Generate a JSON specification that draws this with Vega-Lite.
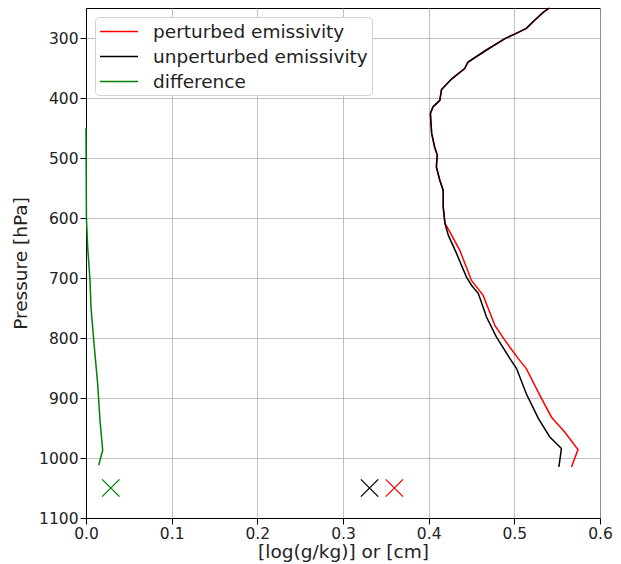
{
  "$schema": "https://vega.github.io/schema/vega-lite/v6.json",
  "width": 514,
  "height": 510,
  "autosize": {"type": "none"},
  "padding": {"left": 86, "top": 8, "right": 21, "bottom": 46},
  "background": "white",
  "config": {
    "font": "DejaVu Sans",
    "view": {"stroke": "black", "strokeWidth": 1},
    "axis": {
      "grid": true, "gridColor": "#b0b0b0", "gridWidth": 1, "gridOpacity": 0.8,
      "domainColor": "black", "tickColor": "black", "tickSize": 6,
      "labelFontSize": 15.5, "labelColor": "#222", "labelFlush": false, "labelOverlap": false,
      "titleFontSize": 18.5, "titleFontWeight": "normal", "titleColor": "#222"
    }
  },
  "datasets": {
    "profiles": [
      {"series": "perturbed emissivity", "p": 250, "x": 0.541},
      {"series": "perturbed emissivity", "p": 257, "x": 0.534},
      {"series": "perturbed emissivity", "p": 270, "x": 0.524},
      {"series": "perturbed emissivity", "p": 284, "x": 0.514},
      {"series": "perturbed emissivity", "p": 293, "x": 0.501},
      {"series": "perturbed emissivity", "p": 301, "x": 0.489},
      {"series": "perturbed emissivity", "p": 320, "x": 0.4675},
      {"series": "perturbed emissivity", "p": 340, "x": 0.446},
      {"series": "perturbed emissivity", "p": 351, "x": 0.442},
      {"series": "perturbed emissivity", "p": 368, "x": 0.427},
      {"series": "perturbed emissivity", "p": 386, "x": 0.415},
      {"series": "perturbed emissivity", "p": 404, "x": 0.413},
      {"series": "perturbed emissivity", "p": 415, "x": 0.405},
      {"series": "perturbed emissivity", "p": 426, "x": 0.402},
      {"series": "perturbed emissivity", "p": 459, "x": 0.4035},
      {"series": "perturbed emissivity", "p": 482, "x": 0.407},
      {"series": "perturbed emissivity", "p": 495, "x": 0.410},
      {"series": "perturbed emissivity", "p": 515, "x": 0.409},
      {"series": "perturbed emissivity", "p": 537, "x": 0.413},
      {"series": "perturbed emissivity", "p": 554, "x": 0.417},
      {"series": "perturbed emissivity", "p": 582, "x": 0.417},
      {"series": "perturbed emissivity", "p": 609, "x": 0.419},
      {"series": "perturbed emissivity", "p": 623, "x": 0.4247},
      {"series": "perturbed emissivity", "p": 654, "x": 0.4364},
      {"series": "perturbed emissivity", "p": 704, "x": 0.450},
      {"series": "perturbed emissivity", "p": 729, "x": 0.4636},
      {"series": "perturbed emissivity", "p": 779, "x": 0.4773},
      {"series": "perturbed emissivity", "p": 804, "x": 0.489},
      {"series": "perturbed emissivity", "p": 834, "x": 0.5044},
      {"series": "perturbed emissivity", "p": 851, "x": 0.514},
      {"series": "perturbed emissivity", "p": 896, "x": 0.530},
      {"series": "perturbed emissivity", "p": 932, "x": 0.5434},
      {"series": "perturbed emissivity", "p": 957, "x": 0.559},
      {"series": "perturbed emissivity", "p": 986, "x": 0.5743},
      {"series": "perturbed emissivity", "p": 1015, "x": 0.5667},
      {"series": "unperturbed emissivity", "p": 250, "x": 0.541},
      {"series": "unperturbed emissivity", "p": 257, "x": 0.534},
      {"series": "unperturbed emissivity", "p": 270, "x": 0.524},
      {"series": "unperturbed emissivity", "p": 284, "x": 0.514},
      {"series": "unperturbed emissivity", "p": 293, "x": 0.501},
      {"series": "unperturbed emissivity", "p": 301, "x": 0.489},
      {"series": "unperturbed emissivity", "p": 320, "x": 0.4675},
      {"series": "unperturbed emissivity", "p": 340, "x": 0.446},
      {"series": "unperturbed emissivity", "p": 351, "x": 0.442},
      {"series": "unperturbed emissivity", "p": 368, "x": 0.427},
      {"series": "unperturbed emissivity", "p": 386, "x": 0.415},
      {"series": "unperturbed emissivity", "p": 404, "x": 0.413},
      {"series": "unperturbed emissivity", "p": 415, "x": 0.405},
      {"series": "unperturbed emissivity", "p": 426, "x": 0.402},
      {"series": "unperturbed emissivity", "p": 459, "x": 0.4035},
      {"series": "unperturbed emissivity", "p": 482, "x": 0.407},
      {"series": "unperturbed emissivity", "p": 495, "x": 0.410},
      {"series": "unperturbed emissivity", "p": 515, "x": 0.409},
      {"series": "unperturbed emissivity", "p": 537, "x": 0.413},
      {"series": "unperturbed emissivity", "p": 554, "x": 0.417},
      {"series": "unperturbed emissivity", "p": 582, "x": 0.417},
      {"series": "unperturbed emissivity", "p": 609, "x": 0.419},
      {"series": "unperturbed emissivity", "p": 629, "x": 0.423},
      {"series": "unperturbed emissivity", "p": 659, "x": 0.4325},
      {"series": "unperturbed emissivity", "p": 698, "x": 0.444},
      {"series": "unperturbed emissivity", "p": 712, "x": 0.450},
      {"series": "unperturbed emissivity", "p": 726, "x": 0.458},
      {"series": "unperturbed emissivity", "p": 765, "x": 0.4675},
      {"series": "unperturbed emissivity", "p": 798, "x": 0.479},
      {"series": "unperturbed emissivity", "p": 834, "x": 0.4947},
      {"series": "unperturbed emissivity", "p": 851, "x": 0.5026},
      {"series": "unperturbed emissivity", "p": 893, "x": 0.514},
      {"series": "unperturbed emissivity", "p": 934, "x": 0.528},
      {"series": "unperturbed emissivity", "p": 965, "x": 0.5414},
      {"series": "unperturbed emissivity", "p": 984, "x": 0.555},
      {"series": "unperturbed emissivity", "p": 1015, "x": 0.552},
      {"series": "difference", "p": 450, "x": 0.0},
      {"series": "difference", "p": 600, "x": 0.0005},
      {"series": "difference", "p": 650, "x": 0.002},
      {"series": "difference", "p": 704, "x": 0.0047},
      {"series": "difference", "p": 749, "x": 0.0058},
      {"series": "difference", "p": 815, "x": 0.0097},
      {"series": "difference", "p": 876, "x": 0.0136},
      {"series": "difference", "p": 937, "x": 0.0163},
      {"series": "difference", "p": 987, "x": 0.0195},
      {"series": "difference", "p": 1012, "x": 0.0148}
    ],
    "markers": [
      {"series": "perturbed emissivity", "p": 1050, "x": 0.36},
      {"series": "unperturbed emissivity", "p": 1050, "x": 0.331},
      {"series": "difference", "p": 1050, "x": 0.029}
    ]
  },
  "encoding": {
    "x": {"field": "x", "type": "quantitative", "scale": {"domain": [0, 0.6], "nice": false, "zero": false},
      "axis": {"values": [0, 0.1, 0.2, 0.3, 0.4, 0.5, 0.6], "format": ".1f", "title": "[log(g/kg)] or [cm]", "titlePadding": 1, "labelPadding": 2}},
    "y": {"field": "p", "type": "quantitative", "scale": {"domain": [250, 1100], "reverse": true, "nice": false, "zero": false},
      "axis": {"values": [300, 400, 500, 600, 700, 800, 900, 1000, 1100], "format": "d", "title": "Pressure [hPa]", "titlePadding": 8, "labelPadding": 2}}
  },
  "layer": [
    {
      "data": {"name": "profiles"},
      "transform": [{"filter": "datum.series === 'perturbed emissivity'"}],
      "mark": {"type": "line", "strokeWidth": 1.5},
      "encoding": {
        "order": {"field": "p", "type": "quantitative"},
        "color": {"field": "series", "type": "nominal",
          "scale": {"domain": ["perturbed emissivity", "unperturbed emissivity", "difference"], "range": ["#ff0000", "#000000", "#008000"]},
          "legend": {"title": null, "orient": "top-left", "offset": 9, "symbolType": "M-1,0H3", "symbolSize": 361, "symbolStrokeWidth": 1.5,
            "labelFontSize": 18.5, "labelColor": "#222", "labelLimit": 0, "labelOffset": 33, "strokeColor": "#d0d0d0", "fillColor": "white", "padding": 4, "cornerRadius": 4, "rowPadding": 5}}
      }
    },
    {
      "data": {"name": "profiles"},
      "transform": [{"filter": "datum.series === 'unperturbed emissivity'"}],
      "mark": {"type": "line", "strokeWidth": 1.5},
      "encoding": {
        "order": {"field": "p", "type": "quantitative"},
        "color": {"field": "series", "type": "nominal"}
      }
    },
    {
      "data": {"name": "profiles"},
      "transform": [{"filter": "datum.series === 'difference'"}],
      "mark": {"type": "line", "strokeWidth": 1.5},
      "encoding": {
        "order": {"field": "p", "type": "quantitative"},
        "color": {"field": "series", "type": "nominal"}
      }
    },
    {
      "data": {"name": "markers"},
      "mark": {"type": "point", "shape": "M-1,-1L1,1M-1,1L1,-1", "filled": false, "size": 300, "strokeWidth": 1.3, "opacity": 1},
      "encoding": {
        "color": {"field": "series", "type": "nominal", "legend": null}
      }
    }
  ]
}
